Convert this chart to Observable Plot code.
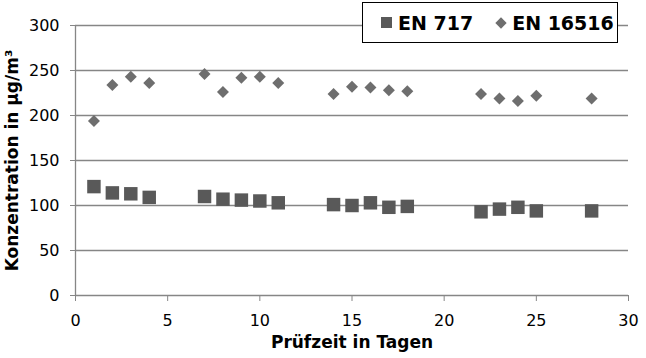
<!DOCTYPE html>
<html><head><meta charset="utf-8">
<script src="https://cdn.jsdelivr.net/npm/d3@7"></script>
<script src="https://cdn.jsdelivr.net/npm/@observablehq/plot@0.6"></script>
<style>
body{margin:0;background:#fff;font-family:"DejaVu Sans",Verdana,sans-serif;}
#wrap{position:relative;width:646px;height:358px;}
#legend{position:absolute;left:362px;top:2px;width:254px;height:39px;border:1px solid #000;background:#fff;display:flex;align-items:center;font-weight:bold;font-size:19px;color:#000;}
.sq{display:inline-block;width:11px;height:11px;background:#595959;margin-left:18px;margin-right:6px;}
.dm{display:inline-block;width:8px;height:8px;background:#6e6e6e;transform:rotate(45deg);margin-left:24px;margin-right:7px;}
</style></head>
<body><div id="wrap"><div id="chart"></div>
<div id="legend"><span class="sq"></span>EN 717<span class="dm"></span>EN 16516</div></div>
<script>
const days = [1,2,3,4,7,8,9,10,11,14,15,16,17,18,22,23,24,25,28];
const en717 = [121,114,113,109,110,107,106,105,103,101,100,103,98,99,93,96,98,94,94];
const en16516 = [194,234,243,236,246,226,242,243,236,224,232,231,228,227,224,219,216,222,219];
const xTicks = [0,5,10,15,20,25,30];
const yTicks = [0,50,100,150,200,250,300];

const d717 = days.map((d,i)=>({x:d,y:en717[i]}));
const d16516 = days.map((d,i)=>({x:d,y:en16516[i]}));

const chart = Plot.plot({
  width:646, height:358,
  marginLeft:75, marginRight:18, marginTop:25, marginBottom:63,
  style:{fontFamily:"DejaVu Sans, Verdana, sans-serif", fontSize:"15px", color:"#000", background:"#fff"},
  x:{domain:[0,30], ticks:xTicks, label:null},
  y:{domain:[0,300], ticks:yTicks, label:null},
  marks:[
    Plot.gridY(yTicks.filter(v=>v>0), {stroke:"#868686", strokeOpacity:1, strokeWidth:1.3}),
    Plot.ruleY([0], {stroke:"#868686", strokeWidth:1.3}),
    Plot.ruleX([0], {stroke:"#868686", strokeWidth:1.3}),
    Plot.axisX({ticks:xTicks, stroke:"#868686", fill:"#000", tickSize:6, tickPadding:13, label:null, fontSize:16}),
    Plot.axisY({ticks:yTicks, stroke:"#868686", fill:"#000", tickSize:5, tickPadding:11, label:null, fontSize:16}),
    Plot.dot(d717, {x:"x", y:"y", symbol:"square", r:7.6, fill:"#595959", stroke:null}),
    Plot.dot(d16516, {x:"x", y:"y", symbol:"diamond2", r:5.4, fill:"#6e6e6e", stroke:null}),
    Plot.text(["Prüfzeit in Tagen"], {frameAnchor:"bottom", dy:52, fontWeight:"bold", fontSize:17, fill:"#000"}),
    Plot.text(["Konzentration in µg/m³"], {frameAnchor:"left", textAnchor:"middle", dx:-63, rotate:-90, fontWeight:"bold", fontSize:17, fill:"#000"})
  ]
});
document.getElementById("chart").appendChild(chart);
</script></body></html>
